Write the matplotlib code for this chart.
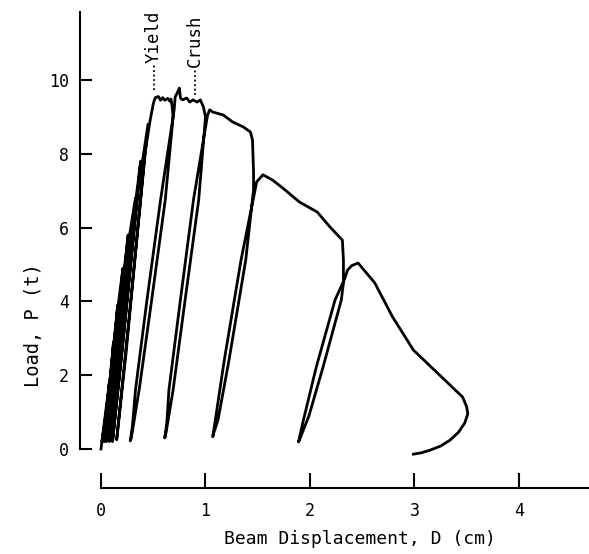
import numpy as np
import matplotlib
matplotlib.use("Agg")
import matplotlib.pyplot as plt

# load-displacement record (D in cm, P in t)
# small elastic cycles before yield
pre_d = [0.00, 0.04, 0.08, 0.05, 0.01,
         0.05, 0.09, 0.12, 0.08, 0.02,
         0.07, 0.12, 0.16, 0.10, 0.03,
         0.09, 0.16, 0.21, 0.13, 0.05,
         0.11, 0.20, 0.26, 0.16, 0.06,
         0.13, 0.24, 0.33, 0.19, 0.08,
         0.16, 0.30, 0.38, 0.22, 0.11,
         0.20, 0.36, 0.45, 0.27, 0.15,
         0.24, 0.42, 0.47, 0.50]
pre_p = [0.00, 0.9, 1.8, 0.9, 0.2,
         1.0, 2.0, 2.9, 1.4, 0.25,
         1.4, 2.8, 3.9, 2.0, 0.2,
         1.8, 3.8, 4.9, 2.4, 0.2,
         1.9, 4.3, 5.8, 2.9, 0.25,
         2.2, 5.2, 6.8, 3.0, 0.2,
         2.4, 6.0, 7.8, 3.2, 0.2,
         2.6, 7.1, 8.8, 3.6, 0.25,
         2.6, 8.0, 8.9, 9.35]

# yield plateau, first unloading
yield_d = [0.51, 0.52, 0.55, 0.57, 0.59, 0.61, 0.64, 0.66, 0.67, 0.68, 0.69,
           0.615, 0.485, 0.365, 0.29, 0.28]
yield_p = [9.45, 9.52, 9.55, 9.45, 9.52, 9.45, 9.50, 9.42, 9.48, 9.30, 9.00,
           6.75, 4.04, 1.60, 0.30, 0.22]

# reload, crush plateau, second unloading
crush_d = [0.30, 0.33, 0.44, 0.57, 0.70, 0.71, 0.73, 0.75, 0.76, 0.78, 0.82,
           0.85, 0.88, 0.92, 0.95, 0.98, 1.00,
           0.935, 0.805, 0.69, 0.62, 0.61]
crush_p = [0.60, 1.60, 4.04, 6.75, 9.19, 9.54, 9.65, 9.78, 9.51, 9.46, 9.51,
           9.40, 9.46, 9.40, 9.46, 9.27, 9.00,
           6.75, 4.04, 1.60, 0.40, 0.30]

# third cycle
c3_d = [0.63, 0.65, 0.76, 0.885, 1.02, 1.04, 1.07, 1.17, 1.26, 1.36, 1.43, 1.45,
        1.46, 1.46, 1.385, 1.225, 1.12, 1.075, 1.07]
c3_p = [0.70, 1.60, 4.04, 6.75, 9.05, 9.19, 9.13, 9.05, 8.86, 8.73, 8.59, 8.37,
        7.48, 7.02, 5.12, 2.41, 0.79, 0.40, 0.33]

# fourth cycle
c4_d = [1.09, 1.10, 1.18, 1.34, 1.49, 1.55, 1.64, 1.74, 1.90, 2.07, 2.19, 2.31,
        2.32, 2.32, 2.30, 2.125, 1.99, 1.90, 1.89]
c4_p = [0.70, 0.90, 2.41, 5.12, 7.24, 7.43, 7.29, 7.07, 6.69, 6.42, 6.02, 5.66,
        5.12, 4.50, 4.04, 2.22, 0.90, 0.25, 0.19]

# last cycle and final unloading
c5_d = [1.93, 2.06, 2.24, 2.33, 2.36, 2.40, 2.46, 2.62, 2.79, 2.99, 3.22, 3.46,
        3.50, 3.51, 3.48, 3.42, 3.34, 3.25, 3.15, 3.07, 2.99]
c5_p = [0.70, 2.22, 4.04, 4.60, 4.85, 4.97, 5.04, 4.50, 3.58, 2.68, 2.06, 1.41,
        1.14, 0.95, 0.70, 0.45, 0.24, 0.08, -0.03, -0.10, -0.14]

x_ticks = [0, 1, 2, 3, 4]
y_ticks = [0, 2, 4, 6, 8, 10]

disp = np.concatenate([pre_d, yield_d, crush_d, c3_d, c4_d, c5_d])
load = np.concatenate([pre_p, yield_p, crush_p, c3_p, c4_p, c5_p])

mono = "DejaVu Sans Mono"

fig = plt.figure(figsize=(5.89, 5.54), dpi=100)
ax = fig.add_axes([0.1358, 0.1191, 0.8642, 0.8592])

ax.plot(disp, load, color="black", lw=2.0, solid_joinstyle="round")

ax.set_xlim(-0.201, 4.67)
ax.set_ylim(-1.057, 11.84)

for s in ["top", "right"]:
    ax.spines[s].set_visible(False)
ax.spines["left"].set_bounds(0, 11.84)
ax.spines["bottom"].set_bounds(0, 4.67)
ax.spines["left"].set_linewidth(1.5)
ax.spines["bottom"].set_linewidth(1.5)

ax.set_xticks(x_ticks)
ax.set_yticks(y_ticks)
ax.tick_params(axis="x", direction="in", length=11, width=1.5, pad=10, labelsize=12)
ax.tick_params(axis="y", direction="in", length=8.5, width=1.5, pad=8, labelsize=12)
for lab in ax.get_xticklabels() + ax.get_yticklabels():
    lab.set_fontfamily(mono)

ax.set_xlabel("Beam Displacement, D (cm)", fontsize=13, fontfamily=mono)
ax.set_ylabel("Load, P (t)", fontsize=13.5, fontfamily=mono)
ax.xaxis.set_label_coords(0.55, -0.088)
ax.yaxis.set_label_coords(-0.072, 0.342)

# event markers
for label, d, p0, p1 in [("Yield", 0.507, 9.73, 10.45), ("Crush", 0.90, 9.59, 10.35)]:
    ax.plot([d, d], [p0, p1 - 0.05], color="black", lw=1.3, ls=(0, (1, 1.5)))
    ax.text(d, p1, label, rotation=90, ha="center", va="bottom",
            fontsize=12.5, fontfamily=mono)

fig.savefig("out.png", dpi=100)
